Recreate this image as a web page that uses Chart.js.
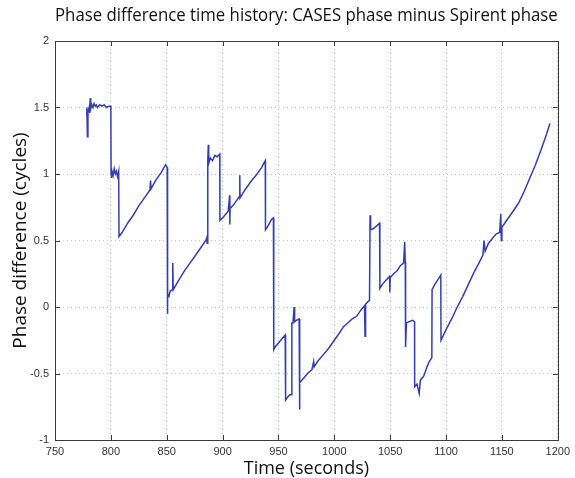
<!DOCTYPE html>
<html>
<head>
<meta charset="utf-8">
<script src="https://cdn.jsdelivr.net/npm/chart.js@4/dist/chart.umd.min.js"></script>
<style>
html,body{margin:0;padding:0;background:#fff;}
canvas{display:block;}
</style>
</head>
<body>
<canvas id="c" width="575" height="478"></canvas>
<script>
const chartTitle = 'Phase difference time history: CASES phase minus Spirent phase';
const xTitle = 'Time (seconds)';
const yTitle = 'Phase difference (cycles)';

const xTickValues = [750, 800, 850, 900, 950, 1000, 1050, 1100, 1150, 1200];
const yTickValues = [-1, -0.5, 0, 0.5, 1, 1.5, 2];

const timeSec = [
  778, 778.5, 779, 779.5, 780.5, 781, 781.5, 782, 783, 784, 785, 786, 787, 788, 790, 792, 794, 796, 798, 800,
  800.2, 800.5, 801, 802, 803, 804, 805, 806, 807, 807.3,
  810, 815, 820, 825, 830, 835, 835.5, 836, 840, 845, 849, 850.4,
  850.5, 851, 852, 853, 855, 855.4, 855.8, 860, 865, 870, 875, 880, 885, 885.8, 886.2, 886.7,
  886.8, 887.2, 887.6, 889, 891, 893, 895, 897.5,
  897.6, 900, 905, 906.3, 906.5, 906.7, 910, 915, 915.4, 915.6, 920, 925, 930, 935, 937.5, 938.2,
  938.4, 940, 942, 944, 945.5,
  945.8, 947, 950, 953, 956,
  956.4, 958, 960, 961.5,
  962, 963, 964, 964.5, 966, 968.5,
  968.8, 969.2, 970, 973, 976, 980, 981.5, 982, 985, 990, 995, 1000, 1005, 1008, 1012, 1016, 1020, 1024, 1027, 1027.5, 1028, 1030, 1031.5,
  1032, 1032.5, 1035, 1038, 1040.5,
  1040.8, 1043, 1046, 1049.5, 1049.7, 1050, 1053, 1056, 1059, 1062, 1063, 1063.5,
  1063.8, 1064.5, 1067, 1070, 1071.8,
  1071.9, 1074, 1076, 1077, 1080, 1083, 1085, 1087.3,
  1087.5, 1090, 1093, 1095.3,
  1095.5, 1100, 1105, 1110, 1115, 1120, 1125, 1130, 1133, 1134, 1135, 1138, 1142, 1145, 1148, 1149, 1149.5, 1150,
  1155, 1160, 1164.8, 1170, 1175, 1179.6, 1185, 1190, 1193
];

const phaseCycles = [
  1.44, 1.50, 1.28, 1.47, 1.50, 1.46, 1.57, 1.49, 1.52, 1.50, 1.53, 1.51, 1.52, 1.50, 1.52, 1.51, 1.52, 1.50, 1.51, 1.51,
  1.00, 0.97, 1.03, 0.99, 1.04, 1.00, 1.02, 0.98, 1.02, 0.53,
  0.56, 0.63, 0.69, 0.76, 0.82, 0.88, 0.95, 0.89, 0.95, 1.01, 1.07, 1.05,
  -0.05, 0.10, 0.08, 0.12, 0.13, 0.33, 0.13, 0.19, 0.26, 0.32, 0.38, 0.44, 0.50, 0.52, 0.48, 0.54,
  1.10, 1.22, 1.08, 1.12, 1.10, 1.14, 1.13, 1.15,
  0.65, 0.67, 0.72, 0.84, 0.62, 0.74, 0.77, 0.83, 0.99, 0.82, 0.88, 0.94, 0.99, 1.05, 1.09, 1.10,
  0.58, 0.60, 0.63, 0.66, 0.67,
  -0.32, -0.30, -0.27, -0.24, -0.21,
  -0.70, -0.68, -0.66, -0.66,
  -0.12, -0.12, 0.00, -0.11, -0.10, -0.09,
  -0.77, -0.57, -0.56, -0.53, -0.50, -0.47, -0.41, -0.45, -0.41, -0.36, -0.31, -0.25, -0.19, -0.15, -0.12, -0.09, -0.07, -0.02, 0.01, -0.22, 0.02, 0.04, 0.05,
  0.69, 0.58, 0.59, 0.61, 0.63,
  0.14, 0.17, 0.20, 0.23, 0.11, 0.22, 0.25, 0.27, 0.31, 0.33, 0.49, 0.34,
  -0.30, -0.12, -0.11, -0.10, -0.11,
  -0.60, -0.58, -0.65, -0.55, -0.52, -0.45, -0.41, -0.38,
  0.13, 0.17, 0.21, 0.24,
  -0.25, -0.17, -0.09, 0.00, 0.08, 0.17, 0.26, 0.34, 0.39, 0.50, 0.42, 0.48, 0.52, 0.55, 0.56, 0.70, 0.50, 0.60,
  0.66, 0.72, 0.78, 0.87, 0.97, 1.06, 1.18, 1.30, 1.38
];

const lineColor = 'rgb(52,62,178)';

const points = timeSec.map((t, i) => ({ x: t, y: phaseCycles[i] }));

const matlabBox = {
  id: 'matlabBox',
  afterDraw(chart) {
    const { ctx, chartArea: a, scales } = chart;
    ctx.save();
    ctx.strokeStyle = '#3a3a3a';
    ctx.lineWidth = 1;
    const tl = 5;
    ctx.beginPath();
    xTickValues.forEach(v => {
      const px = Math.round(scales.x.getPixelForValue(v)) + 0.5;
      ctx.moveTo(px, a.bottom); ctx.lineTo(px, a.bottom - tl);
      ctx.moveTo(px, a.top); ctx.lineTo(px, a.top + tl);
    });
    yTickValues.forEach(v => {
      const py = Math.round(scales.y.getPixelForValue(v)) + 0.5;
      ctx.moveTo(a.left, py); ctx.lineTo(a.left + tl, py);
      ctx.moveTo(a.right, py); ctx.lineTo(a.right - tl, py);
    });
    ctx.stroke();
    ctx.strokeRect(Math.round(a.left) + 0.5, Math.round(a.top) + 0.5,
      Math.round(a.right - a.left), Math.round(a.bottom - a.top));
    ctx.restore();
  }
};

new Chart(document.getElementById('c'), {
  type: 'line',
  data: {
    datasets: [{
      data: points,
      borderColor: lineColor,
      borderWidth: 1.5,
      pointRadius: 0,
      tension: 0,
      fill: false
    }]
  },
  options: {
    responsive: false,
    animation: false,
    devicePixelRatio: 1,
    layout: { padding: { left: 0, right: 12, top: 0, bottom: 0 } },
    plugins: {
      legend: { display: false },
      tooltip: { enabled: false },
      title: {
        display: true,
        text: chartTitle,
        fullSize: false,
        color: '#111',
        font: { family: 'Open Sans', size: 17.5, weight: 'normal', lineHeight: 1.2 },
        padding: { top: 6, bottom: 14 }
      }
    },
    scales: {
      x: {
        type: 'linear',
        min: 750,
        max: 1200,
        afterBuildTicks: s => { s.ticks = xTickValues.map(v => ({ value: v })); },
        afterFit: s => { s.height = 38; },
        ticks: {
          color: '#333',
          font: { family: 'Liberation Sans', size: 11 },
          padding: 5,
          maxRotation: 0,
          autoSkip: false,
          callback: v => String(v)
        },
        grid: {
          color: '#c4c4c4',
          drawTicks: false,
          lineWidth: 1
        },
        border: { display: false, dash: [1, 3] },
        title: {
          display: true,
          text: xTitle,
          color: '#111',
          font: { family: 'Open Sans', size: 18, weight: 'normal', lineHeight: 1 },
          padding: { top: 0, bottom: 0 }
        }
      },
      y: {
        type: 'linear',
        min: -1,
        max: 2,
        afterBuildTicks: s => { s.ticks = yTickValues.map(v => ({ value: v })); },
        afterFit: s => { s.width = 55; },
        ticks: {
          color: '#333',
          font: { family: 'Liberation Sans', size: 11 },
          padding: 6,
          autoSkip: false,
          callback: v => String(v)
        },
        grid: {
          color: '#c4c4c4',
          drawTicks: false,
          lineWidth: 1
        },
        border: { display: false, dash: [1, 3] },
        title: {
          display: true,
          text: yTitle,
          color: '#111',
          font: { family: 'Open Sans', size: 19, weight: 'normal', lineHeight: 1.2 },
          padding: { top: 9, bottom: 0 }
        }
      }
    }
  },
  plugins: [matlabBox]
});
</script>
</body>
</html>
